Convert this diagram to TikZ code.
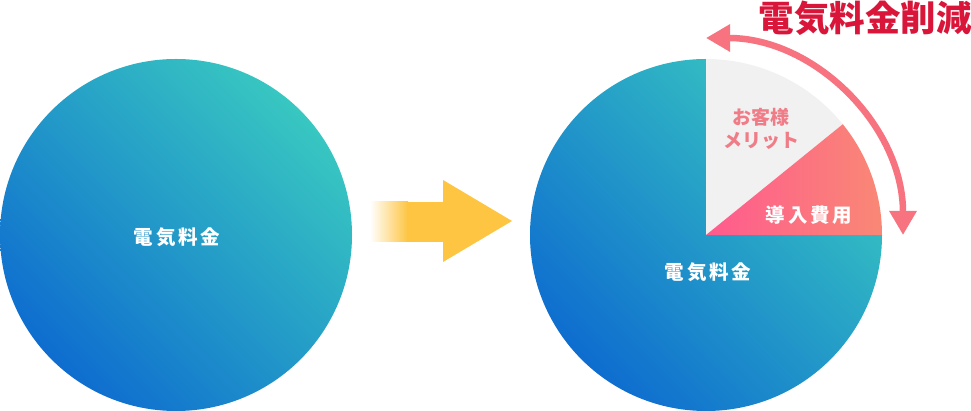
\documentclass[tikz,border=0pt]{standalone}
\usepackage{fontspec}
\usepackage{xcolor}
\usepackage{tikz}
\usetikzlibrary{arrows.meta}
\newfontfamily\cjk{Noto Sans CJK JP}
\newfontfamily\cjksp[LetterSpace=14]{Noto Sans CJK JP}
\definecolor{kwblue}{HTML}{0E6DCF}
\definecolor{kwteal}{HTML}{38C7C1}
\definecolor{feel}{HTML}{FF5A8E}
\definecolor{fear}{HTML}{F98875}
\definecolor{meritgray}{HTML}{F1F1F1}
\definecolor{meritpink}{HTML}{F07C88}
\definecolor{arcpink}{HTML}{F7737F}
\definecolor{cutred}{HTML}{D9163A}
\definecolor{sun}{HTML}{FDC542}

\begin{document}
\begin{tikzpicture}[x=1pt,y=1pt,
  bill/.style={top color=kwteal,bottom color=kwblue,shading angle=-45},
  billtext/.style={text=white,font=\cjksp\bfseries\fontsize{19.5}{22}\selectfont},
  cuttip/.tip={Triangle[width=26pt,length=24pt]}]
  \useasboundingbox (0,0) rectangle (971,411);
  \coordinate (oldc) at (176,176);
  \coordinate (newc) at (706,176);
  % before
  \shade[bill] (oldc) circle (176);
  \node[billtext] (oldlbl) at (177,174) {電気料金};
  % yellow arrow
  \shade[left color=white,right color=sun] (370,169) rectangle (408,209);
  \fill[sun] (407,169) rectangle (444,209);
  \fill[sun] (443,231) -- (512,190) -- (443,149) -- cycle;
  % after
  \shade[bill] (newc) -- ([shift={(90:176)}]newc) arc (90:360:176) -- cycle;
  \fill[meritgray] (newc) -- ([shift={(39:176)}]newc) arc (39:90:176) -- cycle;
  \shade[left color=feel,right color=fear] (newc) -- ([shift={(0:176)}]newc) arc (0:39:176) -- cycle;
  \node[billtext] (newlbl) at (708,139) {電気料金};
  \node[billtext] (cost) at (809,196) {導入費用};
  \node[text=meritpink,font=\cjk\bfseries\fontsize{19}{23}\selectfont,align=center] (merit) at (761,282) {お客様\\メリット};
  % saving arc
  \draw[arcpink,line width=6.5pt,cuttip-cuttip] ([shift={(90:197)}]newc) arc (90:0:197);
  \node[text=cutred,font=\cjk\bfseries\fontsize{35.5}{38}\selectfont] (cut) at (865,393) {電気料金削減};
\end{tikzpicture}
\end{document}
